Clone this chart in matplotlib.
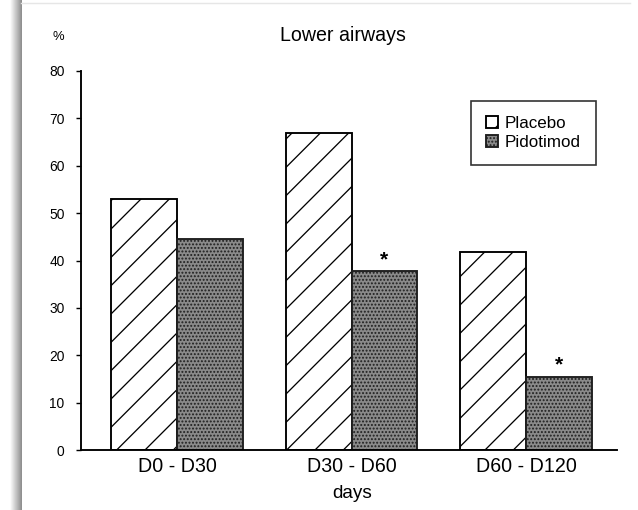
import matplotlib

matplotlib.use("Agg")

import matplotlib.pyplot as plt
import numpy as np

periods = ["D0 - D30", "D30 - D60", "D60 - D120"]
placebo = [53, 67, 41.7]
pidotimod = [44.6, 37.7, 15.4]
significant = [False, True, True]
yticks = [0, 10, 20, 30, 40, 50, 60, 70, 80]

DPI = 170
plt.rcParams["font.family"] = ["Liberation Sans", "DejaVu Sans"]
plt.rcParams["hatch.linewidth"] = 0.55

fig = plt.figure(figsize=(638 / DPI, 510 / DPI), dpi=DPI)
ax = fig.add_axes([81 / 638, 60 / 510, 536 / 638, 379 / 510])

x = np.arange(len(periods))
w = 0.377
ax.bar(x - w / 2, placebo, width=w, facecolor="white", edgecolor="black",
       hatch="//", linewidth=0.8, label="Placebo")
bars2 = ax.bar(x + w / 2, pidotimod, width=w, facecolor="#8a8a8a", edgecolor="#1e1e1e",
               hatch="........", linewidth=0.8, label="Pidotimod")

for rect, star in zip(bars2, significant):
    if star:
        ax.annotate("*", (rect.get_x() + rect.get_width() / 2, rect.get_height()),
                    xytext=(0, 1), textcoords="offset points",
                    ha="center", va="bottom", fontsize=9, fontweight="bold")

ax.set_xlim(-0.55, 2.52)
ax.set_ylim(0, 80)
ax.set_yticks(yticks)
ax.set_xticks(x)
ax.set_xticklabels(periods, fontsize=8.3)
ax.tick_params(axis="y", labelsize=5.8, length=2, width=0.6, pad=5)
ax.tick_params(axis="x", length=0, pad=3)
for s in ("top", "right"):
    ax.spines[s].set_visible(False)
for s in ("left", "bottom"):
    ax.spines[s].set_linewidth(0.8)

fig.text(0.538, 0.931, "Lower airways", ha="center", va="center", fontsize=8.3)
fig.text(0.091, 0.927, "%", ha="center", va="center", fontsize=5.5)
fig.text(0.552, 0.033, "days", ha="center", va="center", fontsize=8)

leg = fig.legend(loc="upper left", bbox_to_anchor=(462 / 638, 1 - 92 / 510),
                 fontsize=7.2, handlelength=0.7, handleheight=0.7, handletextpad=0.4,
                 labelspacing=0.25, borderpad=0.9, fancybox=False, frameon=True)
leg.get_frame().set_edgecolor("black")
leg.get_frame().set_linewidth(0.7)

# scanner shadow along the left edge of the page
shade = fig.add_axes([10 / 638, 0, 11 / 638, 1])
grad = np.linspace(1.0, 0.55, 64)[None, :]
shade.imshow(grad, cmap="gray", vmin=0, vmax=1, aspect="auto", extent=(0, 1, 0, 1))
shade.axis("off")
fig.add_artist(plt.Line2D([21 / 638, 630 / 638], [1 - 3 / 510] * 2,
                          color="#e6e6e6", lw=0.6))

fig.savefig("out.png", dpi=DPI)
